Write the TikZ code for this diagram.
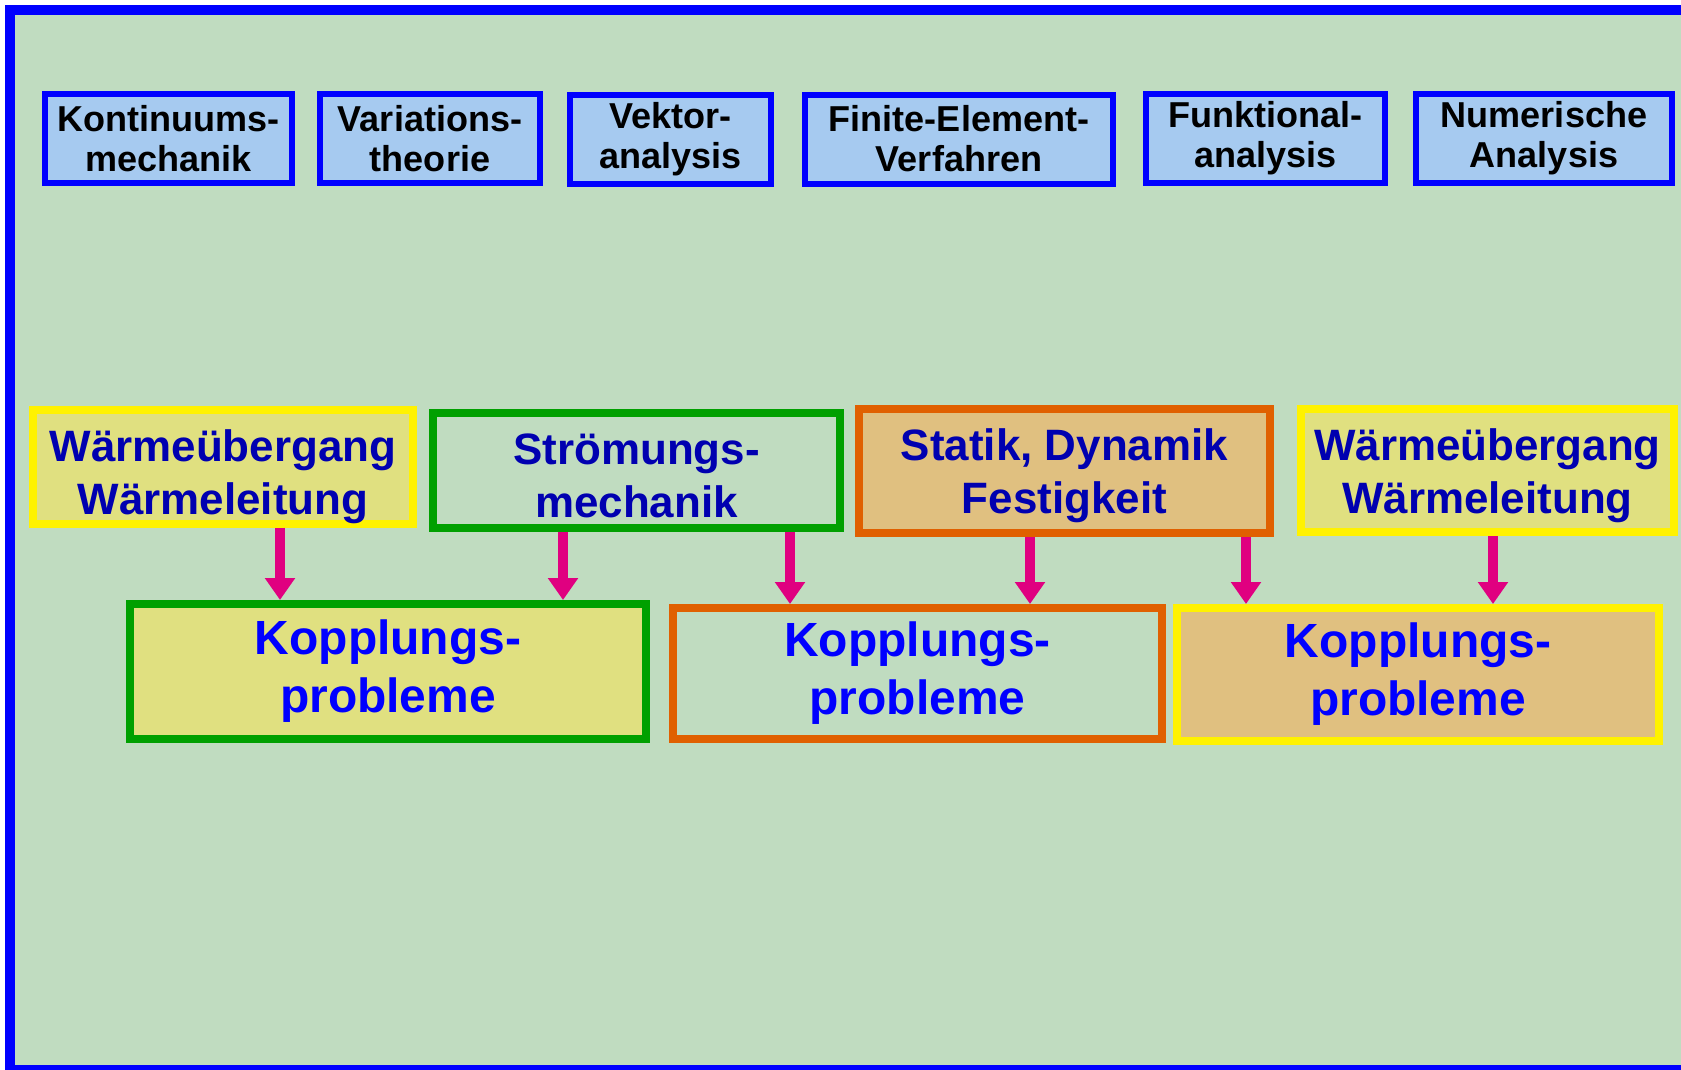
\documentclass[tikz,border=0pt]{standalone}
\usepackage{fontspec}
\setmainfont{Liberation Sans}
\usepackage{tikz}
\usetikzlibrary{arrows.meta}

\definecolor{grund}{RGB}{192,220,192}
\definecolor{himmel}{RGB}{166,202,240}
\definecolor{gelbfill}{RGB}{224,224,128}
\definecolor{ockerfill}{RGB}{224,192,128}
\definecolor{gruenrand}{RGB}{0,160,0}
\definecolor{orangerand}{RGB}{224,96,0}
\definecolor{pink}{RGB}{224,0,128}
\definecolor{navy}{RGB}{0,0,176}

% unsichtbare Stuetze, schiebt den Text etwas nach unten
\newcommand{\tief}[1]{\rule{0pt}{#1}}

\tikzset{
  fach/.style={draw=blue, fill=himmel, line width=1.2mm, inner sep=0pt,
    minimum height=17.8mm, align=center,
    font=\bfseries\fontsize{20.5}{22.8}\selectfont},
  gebiet/.style={line width=1.6mm, inner sep=0pt, align=center, text=navy,
    font=\bfseries\fontsize{25}{30}\selectfont},
  kopplung/.style={line width=1.6mm, inner sep=0pt, align=center, text=blue,
    font=\bfseries\fontsize{27.3}{33}\selectfont},
  pfeil/.style={draw=pink, line width=2mm, -{Triangle[width=5.8mm,length=4.4mm]}}
}

\begin{document}
\begin{tikzpicture}[x=0.2mm, y=-0.2mm]
  \clip (0,0) rectangle (1681,1069);
  \fill[white] (0,0) rectangle (1681,1069);
  % Rahmen
  \draw[draw=blue, fill=grund, line width=2mm] (10,10) rectangle (1720,1070);

  % Grundlagen
  \node[fach, minimum width=49.4mm] at (168.5,138.5) (kont) {Kontinuums-\\mechanik};
  \node[fach, minimum width=44mm] at (430,138.5) (vari) {Variations-\\theorie};
  \node[fach, minimum width=40.2mm] at (670.5,139.5) (vekt) {Vektor-\\analysis};
  \node[fach, minimum width=61.6mm] at (959,139) (fem) {Finite-Element-\\Verfahren};
  \node[fach, minimum width=47.8mm] at (1265.5,138.5) (funk) {Funktional-\\analysis};
  \node[fach, minimum width=51.2mm] at (1544,138.5) (num) {Numerische\\Analysis};

  % Anwendungsgebiete
  \node[gebiet, draw=yellow, fill=gelbfill, minimum width=76mm, minimum height=22.4mm] at (223,467) (W1) {\tief{10.2mm}Wärmeübergang\\Wärmeleitung};
  \node[gebiet, draw=gruenrand, minimum width=81.4mm, minimum height=23mm] at (636.5,470.5) (Str) {\tief{8.4mm}Strömungs-\\mechanik};
  \node[gebiet, draw=orangerand, fill=ockerfill, minimum width=82.2mm, minimum height=24.8mm] at (1064.5,471) (Sta) {\tief{8.4mm}Statik, Dynamik\\Festigkeit};
  \node[gebiet, draw=yellow, fill=gelbfill, minimum width=74.6mm, minimum height=24.6mm] at (1487.5,470.5) (W2) {\tief{8.6mm}Wärmeübergang\\Wärmeleitung};

  % Kopplungen
  \node[kopplung, draw=gruenrand, fill=gelbfill, minimum width=103.2mm, minimum height=27mm] at (388,671.5) (K1) {Kopplungs-\\probleme};
  \node[kopplung, draw=orangerand, minimum width=97.8mm, minimum height=26.2mm] at (917.5,673.5) (K2) {Kopplungs-\\probleme};
  \node[kopplung, draw=yellow, fill=ockerfill, minimum width=96.4mm, minimum height=26.6mm] at (1418,674.5) (K3) {Kopplungs-\\probleme};

  \foreach \von/\nach/\x in {W1/K1/280, Str/K1/563, Str/K2/790, Sta/K2/1030, Sta/K3/1246, W2/K3/1493} {
    \coordinate (p) at (\x,0);
    \draw[pfeil] (p |- \von.south) -- (p |- \nach.north);
  }
\end{tikzpicture}
\end{document}
